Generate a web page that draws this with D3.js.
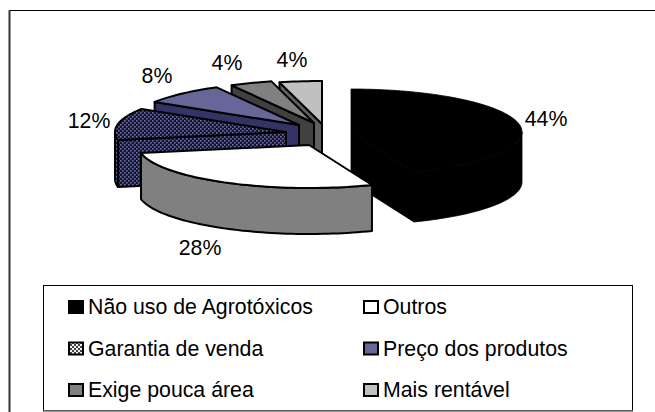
<!DOCTYPE html>
<html><head><meta charset="utf-8">
<script src="https://cdn.jsdelivr.net/npm/d3@7"></script>
<style>html,body{margin:0;padding:0;background:#fff}svg{display:block}text{font-family:"Liberation Sans",Arial,sans-serif;fill:#000}</style>
</head><body><svg id="c" width="655" height="412"></svg>
<script>
const categories=["Não uso de Agrotóxicos","Outros","Garantia de venda","Preço dos produtos","Exige pouca área","Mais rentável"];
const values=[44,28,12,8,4,4];
const labels=["44%","28%","12%","8%","4%","4%"];
// layout
const cx=325,cy=131,rx=171,ry=43,W=655,H=412;
const offX=[26,-16,-39,-26,-11,-3], offY=[1,14,1,-6,-8,-7];
const depths=[50,46,47,47,47,47];
const labelPos=[[546,119],[200,248],[89,121],[157,76],[227,63],[292,60]];
const topFill=["#000","#fff","url(#hatch)","#666699","#808080","#c0c0c0"];
const wallFill=["#000","#808080","url(#hatch)","#333366","#404040","#606060"];
const swatchFill=["#000","#fff","url(#hatchL)","#666699","#808080","#c0c0c0"];

const svg=d3.select("#c");
const defs=svg.append("defs");
const p=defs.append("pattern").attr("id","hatch").attr("width",4).attr("height",4).attr("patternUnits","userSpaceOnUse");
p.append("rect").attr("width",4).attr("height",4).attr("fill","#14142a");
p.append("rect").attr("x",0).attr("y",0).attr("width",1.6).attr("height",1.6).attr("fill","#7070a8");
p.append("rect").attr("x",2).attr("y",2).attr("width",1.6).attr("height",1.6).attr("fill","#7070a8");
const q=defs.append("pattern").attr("id","hatchL").attr("width",4).attr("height",4).attr("patternUnits","userSpaceOnUse");
q.append("rect").attr("width",4).attr("height",4).attr("fill","#444");
q.append("rect").attr("x",0).attr("y",0).attr("width",2).attr("height",2).attr("fill","#eee");
q.append("rect").attr("x",2).attr("y",2).attr("width",2).attr("height",2).attr("fill","#eee");

svg.append("line").attr("x1",9).attr("x2",W).attr("y1",10.5).attr("y2",10.5).attr("stroke","#000");
svg.append("line").attr("x1",9.5).attr("x2",9.5).attr("y1",10).attr("y2",H).attr("stroke","#333").attr("stroke-width",2);

const arcs=d3.pie().sort(null).value(d=>d)(values);
const px=(i,a)=>cx+offX[i]+rx*Math.sin(a), py=(i,a)=>cy+offY[i]-ry*Math.cos(a);
const ax=i=>cx+offX[i], ay=i=>cy+offY[i];
const line=d3.line();
function rim(i,a0,a1,dz){const n=Math.max(2,Math.ceil(Math.abs(a1-a0)/0.03));
  return d3.range(n+1).map(k=>{const a=a0+(a1-a0)*k/n;return [px(i,a),py(i,a)+dz];});}

const order=[5,4,3,2,0,1];
const stroke=(s,i)=>s.attr("stroke","#000").attr("stroke-width",i===0?0.8:2).attr("stroke-linejoin","round");
const pie=svg.append("g");
order.forEach(i=>{
  const d=arcs[i],a0=d.startAngle,a1=d.endAngle,depth=depths[i];
  const g=pie.append("g");
  const wall=(a)=>[[ax(i),ay(i)],[px(i,a),py(i,a)],[px(i,a),py(i,a)+depth],[ax(i),ay(i)+depth]];
  if(Math.sin(a1)>0) g.append("path").attr("d",line(wall(a1))+"Z").attr("fill",wallFill[i]).call(stroke,i);
  if(Math.sin(a0)<0) g.append("path").attr("d",line(wall(a0))+"Z").attr("fill",wallFill[i]).call(stroke,i);
  const lo=Math.max(a0,Math.PI/2),hi=Math.min(a1,3*Math.PI/2);
  if(hi>lo){
    const pts=rim(i,lo,hi,0).concat(rim(i,hi,lo,depth));
    g.append("path").attr("d",line(pts)+"Z").attr("fill",wallFill[i]).call(stroke,i);
  }
  const top=[[ax(i),ay(i)]].concat(rim(i,a0,a1,0));
  g.append("path").attr("d",line(top)+"Z").attr("fill",topFill[i]).call(stroke,i);
});

labels.forEach((t,i)=>svg.append("text").attr("x",labelPos[i][0]).attr("y",labelPos[i][1]).attr("text-anchor","middle").attr("dominant-baseline","central").attr("font-size",21.3).text(t));

svg.append("rect").attr("x",43.5).attr("y",285.5).attr("width",589).attr("height",125).attr("fill","#fff").attr("stroke","#000");
svg.append("line").attr("x1",43).attr("x2",633).attr("y1",411).attr("y2",411).attr("stroke","#777").attr("stroke-width",1.5);
const colX=d3.scaleOrdinal().domain([0,1]).range([69,364]);
const rowY=d3.scalePoint().domain([0,1,2]).range([307,390]);
categories.forEach((t,i)=>{
  const c=i%2,r=Math.floor(i/2);
  svg.append("rect").attr("x",colX(c)).attr("y",rowY(r)-6).attr("width",14).attr("height",12).attr("fill",swatchFill[i]).attr("stroke","#000").attr("stroke-width",2);
  svg.append("text").attr("x",colX(c)+19).attr("y",rowY(r)).attr("dominant-baseline","central").attr("font-size",21.3).text(t);
});
</script></body></html>
